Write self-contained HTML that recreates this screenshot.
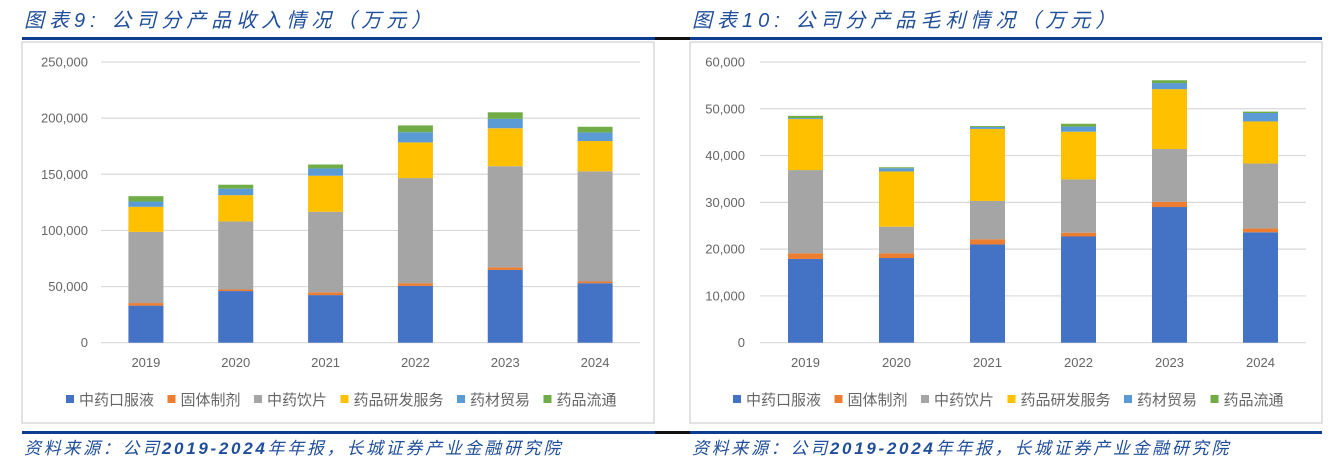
<!DOCTYPE html>
<html><head><meta charset="utf-8">
<style>
body{margin:0;width:1332px;height:470px;background:#fff;overflow:hidden;position:relative;font-family:"Liberation Sans","Noto Sans CJK SC",sans-serif}
.title{position:absolute;top:4px;font-size:20px;font-style:italic;color:#1F4E9A;letter-spacing:5px;font-family:"Liberation Sans","Noto Sans CJK SC",sans-serif}
.src{position:absolute;top:434px;font-size:17px;font-style:italic;color:#1F4E9A;letter-spacing:2.7px}
.line{position:absolute;height:3px;background:#0B3D91}
svg{position:absolute;left:0;top:0}
</style></head><body>
<div class="title" style="left:24px">图表9:  公司分产品收入情况（万元）</div>
<div class="title" style="left:692px">图表10:  公司分产品毛利情况（万元）</div>
<div class="line" style="left:22px;top:37px;width:1300px"></div>
<div class="line" style="left:655px;top:37px;width:35px;background:#111"></div>
<div class="line" style="left:22px;top:431px;width:1300px"></div>
<div class="line" style="left:655px;top:431px;width:35px;background:#111"></div>
<div class="src" style="left:24px">资料来源：公司<b>2019-2024</b>年年报，长城证券产业金融研究院</div>
<div class="src" style="left:692px">资料来源：公司<b>2019-2024</b>年年报，长城证券产业金融研究院</div>
<svg id="svg" width="1332" height="470"></svg>
<script>
const categories=["2019","2020","2021","2022","2023","2024"];
const seriesNames=["中药口服液","固体制剂","中药饮片","药品研发服务","药材贸易","药品流通"];
const revOral=[33000,46000,42400,50600,64800,53000];
const revSolid=[2300,1400,2400,2400,2300,1500];
const revPieces=[63400,60600,71800,93600,90100,98100];
const revRD=[22300,23400,32100,31800,33800,27000];
const revTrade=[4700,5800,6500,9100,8400,7700];
const revDist=[4800,3500,3500,6000,5800,5000];
const revTicks=[0,50000,100000,150000,200000,250000];
const gpOral=[17900,18100,21000,22700,29000,23600];
const gpSolid=[1200,1000,1100,800,1100,800];
const gpPieces=[17800,5700,8200,11400,11300,13900];
const gpRD=[10900,11800,15400,10200,12800,9000];
const gpTrade=[200,700,400,1100,1300,1800];
const gpDist=[500,200,200,600,600,300];
const gpTicks=[0,10000,20000,30000,40000,50000,60000];
const colors=["#4472C4","#ED7D31","#A5A5A5","#FFC000","#5B9BD5","#70AD47"];
const NS="http://www.w3.org/2000/svg";
const svg=document.getElementById('svg');
function mk(tag,attrs,parent){const e=document.createElementNS(NS,tag);for(const k in attrs)e.setAttribute(k,attrs[k]);(parent||svg).appendChild(e);return e;}
function fmt(v){return v.toLocaleString('en-US');}
function draw(o){
  const g=mk('g',{});
  
  
  const box=mk('rect',{x:o.bx,y:42,width:o.bw,height:381,fill:'none',stroke:'#D9D9D9','stroke-width':1.5},g);
  
  
  const y0=342.7,yTop=o.topY,max=o.ticks[o.ticks.length-1];
  const y=v=>y0-(v/max)*(y0-yTop);
  const step=(o.x1-o.x0)/categories.length;
  const x=i=>o.x0+step*(i+0.5);
  o.ticks.forEach(t=>{
    const l=mk('line',{x1:o.x0,x2:o.x1,y1:y(t),y2:y(t),stroke:'#D9D9D9','stroke-width':1.2},g);
    
    
    const tx=mk('text',{x:o.labelX,y:y(t)+4.5,'text-anchor':'end','font-size':13,fill:'#666'},g);
    tx.textContent=fmt(t);
    
    
  });
  categories.forEach((c,i)=>{
    let acc=0;
    o.series.forEach((s,si)=>{
      const v=s[i];
      const r=mk('rect',{x:x(i)-17.5,y:y(acc+v),width:35,height:y(acc)-y(acc+v),fill:colors[si]},g);
      
      
      acc+=v;
    });
    const tx=mk('text',{x:x(i),y:367,'text-anchor':'middle','font-size':13,fill:'#666'},g);
    tx.textContent=c;
    
    
  });
  let lx=o.legX;
  seriesNames.forEach((n,si)=>{
    const r=mk('rect',{x:lx,y:395,width:8,height:8,fill:colors[si]},g);
    
    
    const t=mk('text',{x:lx+13,y:405,'font-size':15,fill:'#666'},g);
    t.textContent=n;
    
    
    lx+=13+n.length*15+13.5;
  });
}
draw({name:'revenue-chart',bx:22,bw:632,x0:101,x1:640,topY:62,labelX:88,ticks:revTicks,series:[revOral,revSolid,revPieces,revRD,revTrade,revDist],legX:66});
draw({name:'gross-profit-chart',bx:690,bw:632,x0:760,x1:1306,topY:62,labelX:745,ticks:gpTicks,series:[gpOral,gpSolid,gpPieces,gpRD,gpTrade,gpDist],legX:733});
</script>
</body></html>
